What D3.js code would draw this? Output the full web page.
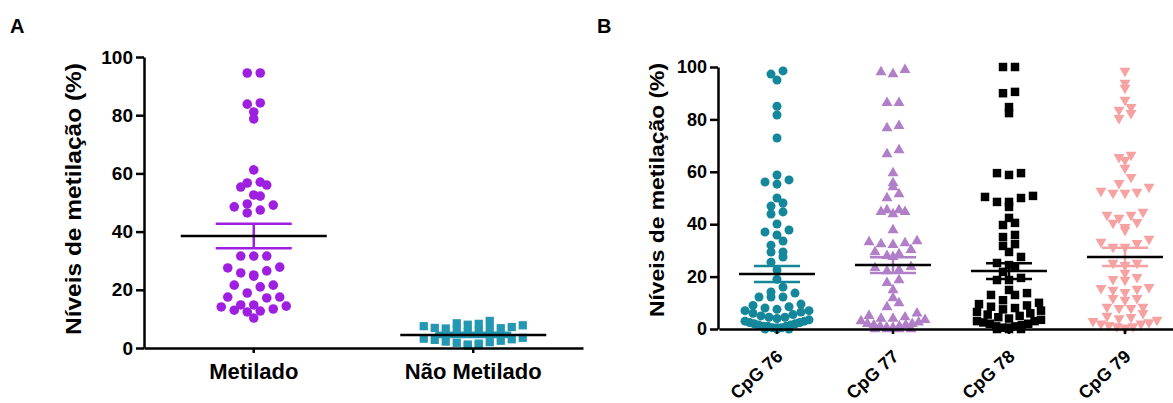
<!DOCTYPE html>
<html>
<head>
<meta charset="utf-8">
<script src="https://cdn.jsdelivr.net/npm/d3@7"></script>
<style>
  body { margin: 0; background: #fff; }
  svg { display: block; font-family: "Liberation Sans", Arial, sans-serif; font-weight: bold; }
</style>
</head>
<body>
<svg id="chart" width="1173" height="403"></svg>
<script>
// ---- data ----
const catsA = ["Metilado", "Não Metilado"];
const metilado = [94.5, 94.5, 84.2, 83.8, 81.1, 78.7, 61.2, 57, 56.7, 56, 55.3, 52.6, 52.2,
  49.5, 49.1, 48.5, 47.4, 46.4, 31.6, 31.6, 31.6, 27.8, 27.5, 26.5, 25.8, 25.1, 24.7,
  21.6, 21.6, 21, 18.9, 17.5, 17.5, 17.2, 14.8, 14.8, 14.4, 14.1, 13.4, 13, 12.7, 12.4, 10.3];
const naoMetilado = [9.3, 8.5, 8.3, 8.0, 7.8, 7.5, 7.2, 6.9, 6.8, 6.7, 6.5, 6.3, 6.0, 5.5,
  3.5, 3.2, 3.0, 2.8, 2.5, 2.2, 2.0, 1.8, 1.5, 1.2, 1.0, 0.8];
const meanA = [38.5, 4.5];
const semA = [4.2, 0.7];

const catsB = ["CpG 76", "CpG 77", "CpG 78", "CpG 79"];
const cpg76 = [98.5, 97.3, 95, 85, 81.7, 72.9, 58.8, 56.9, 56.1, 55.3, 50, 48.1, 46.9, 44.7, 43.9,
  40.1, 37.8, 37, 35.9, 33.6, 32, 29.4, 29.4, 27.5, 25.5, 22.5, 19, 16, 14.1, 13.7, 12.2, 12.2, 12.2,
  9.5, 9, 8.5, 8, 7.5, 7, 7, 6.5, 6, 5.5, 5, 4.5, 4.5, 4, 3.5, 3, 3, 2.5, 2.5, 2, 2, 1.5, 1.5,
  1, 1, 1, 0.5, 0.5, 0.5, 0, 0, 0];
const cpg77 = [98.9, 98.1, 97.3, 86.3, 86.3, 77.5, 76.7, 68.3, 66.8, 59.5, 55.7, 54.2, 51.5, 50,
  45.4, 45.4, 44.7, 44.7, 43.9, 37.8, 33.6, 33.2, 32.8, 32.4, 32.1, 30.2, 29.4, 28.6, 27.9, 27.5,
  23.7, 23.3, 22.5, 22.1, 18.7, 17.6, 14.9, 11.8, 9.9, 8.4, 6, 5, 4.5, 4, 4, 3.5, 3, 2.5, 2, 2,
  1.5, 1.5, 1, 1, 0.5, 0.5, 0, 0, 0, 0];
const cpg78 = [100, 100, 90.5, 90, 84.7, 82.4, 59.5, 59.5, 58.8, 50.8, 50.4, 50, 48.5, 48.5, 46.6,
  42.4, 40.5, 39.7, 35.9, 35.1, 32.4, 31.7, 29.4, 27.5, 25.2, 24.4, 23.7, 21.8, 19.5, 18.7, 18.7,
  14.9, 13.7, 13, 13, 11, 10, 9.5, 9, 8.5, 8, 7.5, 7, 6.5, 6, 5.5, 5, 4.5, 4, 3.5, 3, 3, 2.5, 2, 2,
  1.5, 1, 1, 0.5, 0.5, 0, 0, 0];
const cpg79 = [98.5, 93.9, 92, 87.4, 84.7, 83.6, 82.4, 80.5, 66.4, 65.6, 64.5, 61.5, 58, 55.7, 54.2,
  52.7, 52.3, 51.9, 51.9, 44.7, 43.5, 43.5, 42.4, 40.8, 40.5, 38.9, 37.8, 34.4, 33.2, 32.8, 31.3, 31.3,
  25.2, 25.2, 24.4, 21.4, 19.8, 19, 18.7, 16, 15.6, 15.3, 14.9, 14.1, 11.8, 11.8, 11.1, 8.4, 8.4, 8, 8,
  6, 5, 4.5, 4, 3.5, 3, 2.5, 2, 2, 1.5, 1, 1, 0.5, 0];
const meanB = [21, 24.4, 22.1, 27.5];
const semB = [3.05, 3.0, 3.0, 3.5];
const yTicks = [0, 20, 40, 60, 80, 100];

// ---- helpers ----
const svg = d3.select("#chart");

// GraphPad-like scatter: points grouped in rows, spread sideways
function swarm(values, y, rowPx, dx, maxW) {
  const pts = values.map((v) => ({ v: v, py: y(v), off: 0 }));
  const rows = d3.group(pts, (p) => Math.round(p.py / rowPx));
  rows.forEach((row) => {
    row.sort((a, b) => a.v - b.v);
    const n = row.length;
    const step = n > 1 ? Math.min(dx, maxW / (n - 1)) : 0;
    // slots from the centre outwards
    const slots = d3.range(n).map((i) => (i - (n - 1) / 2) * step)
      .sort((a, b) => Math.abs(a) - Math.abs(b) || a - b);
    row.forEach((p, i) => (p.off = slots[i]));
  });
  return pts;
}

function styleAxis(g, fs) {
  g.select(".domain").attr("stroke", "#000").attr("stroke-width", 2.5);
  g.selectAll(".tick line").attr("stroke", "#000").attr("stroke-width", 2.5);
  g.selectAll(".tick text").attr("fill", "#000").style("font-size", fs + "px")
    .style("font-weight", "bold").style("font-family", "'Liberation Sans', Arial, sans-serif");
}

function drawMean(g, cx, m, s, y, color, halfMean, halfSem) {
  g.append("line")
    .attr("x1", cx).attr("x2", cx).attr("y1", y(m + s)).attr("y2", y(m - s))
    .attr("stroke", color).attr("stroke-width", 2.5);
  [m + s, m - s].forEach((v) => {
    g.append("line")
      .attr("x1", cx - halfSem).attr("x2", cx + halfSem).attr("y1", y(v)).attr("y2", y(v))
      .attr("stroke", color).attr("stroke-width", 2.5);
  });
  g.append("line")
    .attr("x1", cx - halfMean).attr("x2", cx + halfMean).attr("y1", y(m)).attr("y2", y(m))
    .attr("stroke", "#000").attr("stroke-width", 2.5);
}

// ---- panel A ----
const yA = d3.scaleLinear().domain([0, 100]).range([348, 57]);
const xA = d3.scaleBand().domain(catsA).range([144, 583]);
const gA = svg.append("g");

const seriesA = [
  { name: catsA[0], vals: metilado, color: "#9e1fe0", shape: d3.symbolCircle, size: 72, dx: 13 },
  { name: catsA[1], vals: naoMetilado, color: "#2498b3", shape: d3.symbolSquare, size: 68, dx: 11 }
];

seriesA.forEach((s, i) => {
  const cx = xA(s.name) + xA.bandwidth() / 2;
  gA.append("g")
    .selectAll("path")
    .data(swarm(s.vals, yA, 10, s.dx, 140))
    .enter()
    .append("path")
    .attr("d", d3.symbol().type(s.shape).size(s.size))
    .attr("transform", (d) => `translate(${cx + d.off},${d.py})`)
    .style("fill", s.color);
  drawMean(gA, cx, meanA[i], semA[i], yA, s.color, 73, 38);
});

gA.append("g")
  .attr("transform", "translate(0,348)")
  .call(d3.axisBottom(xA).tickSize(5).tickSizeOuter(0).tickPadding(10))
  .call((g) => styleAxis(g, 22));

gA.append("g")
  .attr("transform", "translate(144,0)")
  .call(d3.axisLeft(yA).tickValues(yTicks).tickSize(8).tickSizeOuter(0).tickPadding(3))
  .call((g) => styleAxis(g, 19));

gA.append("text")
  .attr("transform", "translate(81,199) rotate(-90)")
  .attr("text-anchor", "middle")
  .attr("textLength", 272).attr("lengthAdjust", "spacingAndGlyphs")
  .style("font-size", "22px")
  .text("Níveis de metilação (%)");

svg.append("text").attr("x", 10).attr("y", 33).style("font-size", "20px").text("A");

// ---- panel B ----
const yB = d3.scaleLinear().domain([0, 100]).range([329, 67]);
const xB = d3.scaleBand().domain(catsB).range([719, 1183]);
const gB = svg.append("g");

const seriesB = [
  { name: catsB[0], vals: cpg76, color: "#14879b", shape: d3.symbolCircle, size: 64, rot: 0 },
  { name: catsB[1], vals: cpg77, color: "#b07fc8", shape: d3.symbolTriangle, size: 52, rot: 0 },
  { name: catsB[2], vals: cpg78, color: "#000000", shape: d3.symbolSquare, size: 72, rot: 0 },
  { name: catsB[3], vals: cpg79, color: "#f7a2a2", shape: d3.symbolTriangle, size: 52, rot: 180 }
];

seriesB.forEach((s, i) => {
  const cx = xB(s.name) + xB.bandwidth() / 2;
  gB.append("g")
    .selectAll("path")
    .data(swarm(s.vals, yB, 9, 12, 64))
    .enter()
    .append("path")
    .attr("d", d3.symbol().type(s.shape).size(s.size))
    .attr("transform", (d) => `translate(${cx + d.off},${d.py}) rotate(${s.rot})`)
    .style("fill", s.color);
  drawMean(gB, cx, meanB[i], semB[i], yB, s.color, 38, 23);
});

gB.append("g")
  .attr("transform", "translate(0,329)")
  .call(d3.axisBottom(xB).tickSize(5).tickSizeOuter(0))
  .call((g) => styleAxis(g, 18))
  .call((g) =>
    g.selectAll(".tick text")
      .attr("text-anchor", "end")
      .attr("dy", null)
      .attr("transform", "translate(7,29) rotate(-42)")
      .attr("y", 0)
  );

gB.append("g")
  .attr("transform", "translate(718,0)")
  .call(d3.axisLeft(yB).tickValues(yTicks).tickSize(8).tickSizeOuter(0).tickPadding(3))
  .call((g) => styleAxis(g, 18));

gB.append("text")
  .attr("transform", "translate(664,190) rotate(-90)")
  .attr("text-anchor", "middle")
  .attr("textLength", 254).attr("lengthAdjust", "spacingAndGlyphs")
  .style("font-size", "20px")
  .text("Níveis de metilação (%)");

svg.append("text").attr("x", 597).attr("y", 33).style("font-size", "20px").text("B");
</script>
</body>
</html>
